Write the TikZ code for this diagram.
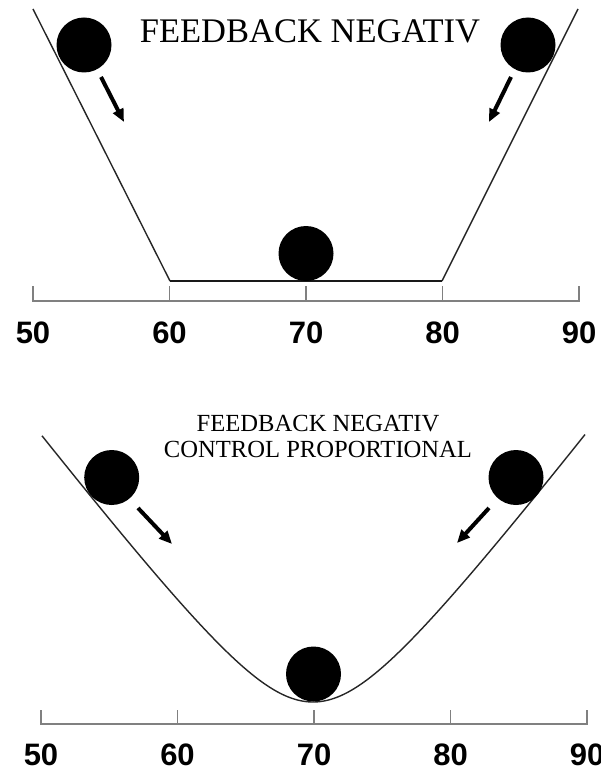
\documentclass[tikz,border=0pt]{standalone}
\usepackage{fontspec}
\setmainfont{Liberation Serif}
\newfontfamily\labfont{Liberation Sans}
\usetikzlibrary{arrows.meta}
\begin{document}
\begin{tikzpicture}[x=1pt,y=-1pt,
  ball/.style={circle,fill=black,minimum size=55pt,inner sep=0pt},
  slope/.style={line width=1.4pt,black!85,line join=round},
  trough/.style={line width=1.8pt,black!90},
  axisline/.style={line width=1.4pt,black!50},
  roll/.style={line width=4pt,-{Triangle[length=13pt,width=11pt]}},
  numlab/.style={font=\labfont\bfseries\fontsize{31}{31}\selectfont,anchor=base,inner sep=0pt},
  bigtitle/.style={font=\fontsize{34.5}{36}\selectfont,anchor=base,inner sep=0pt},
  smalltitle/.style={font=\fontsize{24.6}{26}\selectfont,align=center,anchor=base,inner sep=0pt}]
\useasboundingbox (0,0) rectangle (600,770);

% ---------- top diagram ----------
\draw[slope] (33,9) -- (170,281);
\draw[slope] (442,281) -- (578,9);
\draw[trough] (170,281) -- (442,281);
\draw[axisline] (33,286) -- (33,301) -- (579,301) -- (579,286);
\foreach \x in {169.5,306,442.5} \draw[axisline] (\x,286) -- (\x,301);
\foreach \x/\v in {33/50,169.5/60,306/70,442.5/80,579/90}
  \node[numlab] (t\v) at (\x,343) {\v};
\node[bigtitle] (title1) at (310,43) {FEEDBACK NEGATIV};
\node[ball] (b1) at (84,45) {};
\node[ball] (b2) at (528,45) {};
\node[ball] (b3) at (306,253.5) {};
\coordinate (a1s) at (101,77);  \coordinate (a1e) at (124,122);
\coordinate (a2s) at (511,77);  \coordinate (a2e) at (489,122);
\draw[roll] (a1s) -- (a1e);
\draw[roll] (a2s) -- (a2e);

% ---------- bottom diagram ----------
\draw[slope] plot[domain=-271:272,samples=200,smooth]
  ({313+\x},{702-100*(sqrt(1+(0.013*\x)^2)-1)});
\draw[axisline] (41,710) -- (41,724) -- (587,724) -- (587,710);
\foreach \x in {177.5,314,450.5} \draw[axisline] (\x,710) -- (\x,724);
\foreach \x/\v in {41/50,177.5/60,314/70,450.5/80,587/90}
  \node[numlab] (u\v) at (\x,765) {\v};
\node[smalltitle] (title2) at (318,457) {FEEDBACK NEGATIV\\CONTROL PROPORTIONAL};
\node[ball] (c1) at (111.7,477.5) {};
\node[ball] (c2) at (516,477.5) {};
\node[ball] (c3) at (313.5,674) {};
\coordinate (d1s) at (138,508);  \coordinate (d1e) at (172,544);
\coordinate (d2s) at (489,508);  \coordinate (d2e) at (457,543);
\draw[roll] (d1s) -- (d1e);
\draw[roll] (d2s) -- (d2e);
\end{tikzpicture}
\end{document}
